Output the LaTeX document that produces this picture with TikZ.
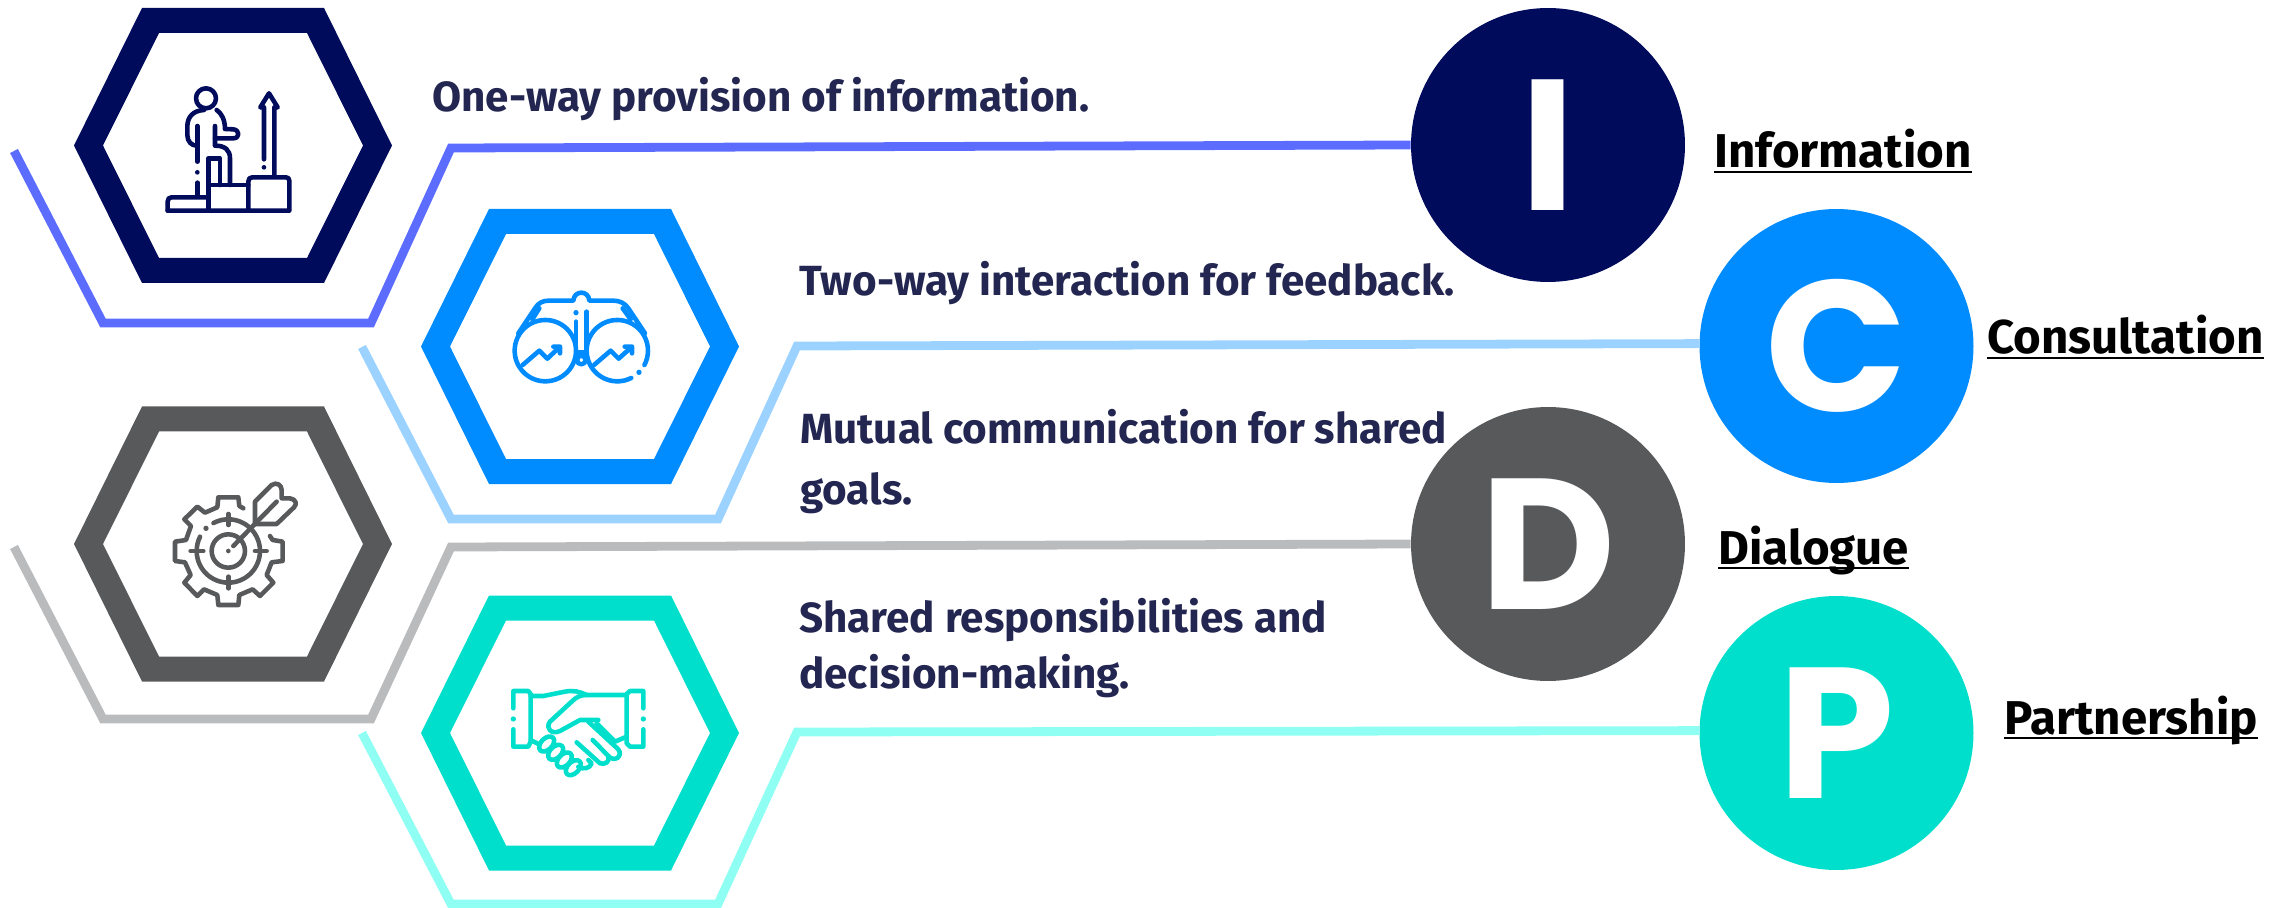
\documentclass[tikz,border=0pt]{standalone}
\usepackage{fontspec}
\usepackage{xcolor}
\usepackage{tikz}
\usetikzlibrary{positioning}
\setmainfont{Fira Sans}
\newfontfamily\letterfont{Poppins}
\definecolor{navyring}{RGB}{0, 11, 92}
\definecolor{bluering}{RGB}{0, 140, 255}
\definecolor{greyring}{RGB}{88, 89, 91}
\definecolor{tealring}{RGB}{0, 223, 204}
\definecolor{navyline}{RGB}{91, 108, 255}
\definecolor{blueline}{RGB}{155, 210, 255}
\definecolor{greyline}{RGB}{186, 187, 189}
\definecolor{tealline}{RGB}{143, 255, 243}
\definecolor{bodytext}{RGB}{35, 38, 80}
\tikzset{
    lettercirc/.style={circle, inner sep=0pt, minimum size=5.48cm, text=white,
        font=\letterfont\fontsize{106}{106}\selectfont\bfseries},
    linkline/.style={line width=5pt, miter limit=3},
    bodylabel/.style={anchor=base west, inner sep=0pt, text=bodytext,
        font=\fontsize{24}{24}\selectfont\bfseries},
    namelabel/.style={anchor=base west, inner sep=0pt, text=black,
        font=\fontsize{27}{27}\selectfont\bfseries},
    nameline/.style={line width=1.3pt},
    iconline/.style={x=0.006667cm, y=-0.006667cm, line width=2.6pt, line cap=round, line join=round}
}
\begin{document}
\begin{tikzpicture}[x=0.02cm, y=-0.02cm]
    \useasboundingbox (0,0) rectangle (2287,908);

    % hexagon rings
    \foreach \cx/\cy/\ringcol in {233/145.5/navyring, 580/346.5/bluering, 233/544/greyring, 580/733/tealring} {
        \fill[\ringcol, even odd rule, shift={(\cx,\cy)}]
            (-159,0) -- (-91,-137.5) -- (91,-137.5) -- (159,0) -- (91,137.5) -- (-91,137.5) -- cycle
            (-130,0) -- (-74,-112.5) -- (74,-112.5) -- (130,0) -- (74,112.5) -- (-74,112.5) -- cycle;
    }

    % letter circles
    \node[lettercirc, fill=navyring] (infocirc) at (1548,145) {I};
    \node[lettercirc, fill=bluering] (conscirc) at (1836.5,346) {C};
    \node[lettercirc, fill=greyring] (dialcirc) at (1548,544) {D};
    \node[lettercirc, fill=tealring] (partcirc) at (1836.5,733) {P};

    % free ends of the lines
    \coordinate (infostart) at (14,151);
    \coordinate (consstart) at (362,347);
    \coordinate (dialstart) at (14,547);
    \coordinate (partstart) at (362,733);

    \draw[linkline, navyline] (infostart) -- (103,323) -- (371,323) -- (451,148) -- (infocirc.west);
    \draw[linkline, blueline] (consstart) -- (451,519) -- (718,519) -- (797,346) -- (conscirc.179);
    \draw[linkline, greyline] (dialstart) -- (103,719) -- (371,719) -- (451,547) -- (dialcirc.west);
    \draw[linkline, tealline] (partstart) -- (451,904) -- (718,904) -- (797,732) -- (partcirc.179);

    % body texts
    \node[bodylabel] (infotext) at (432,112) {One-way provision of information.};
    \node[bodylabel] (constext) at (799,296) {Two-way interaction for feedback.};
    \node[bodylabel] (dialtexta) at (800,443) {Mutual communication for shared};
    \node[bodylabel] (dialtextb) at (800,504) {goals.};
    \node[bodylabel] (parttexta) at (799,632) {Shared responsibilities and};
    \node[bodylabel] (parttextb) at (799,688) {decision-making.};

    % names
    \node[namelabel] (infoname) at (1714,168) {Information};
    \node[namelabel] (consname) at (1987,354) {Consultation};
    \node[namelabel] (dialname) at (1718,564) {Dialogue};
    \node[namelabel] (partname) at (2004,734) {Partnership};
    \foreach \nm in {infoname, consname, dialname, partname}
        \draw[nameline] ([yshift=-2.3pt]\nm.base west) -- ([yshift=-2.3pt]\nm.base east);

    % climbing figure
    \begin{scope}[iconline, draw=navyring]
        \draw (618,295) circle (30);
        \draw (612,330) .. controls (580,332) and (562,350) .. (562,380) -- (562,405) .. controls (562,425) and (575,437) .. (590,437);
        \draw (650,330) .. controls (665,340) and (675,360) .. (675,387) -- (700,388) .. controls (720,390) and (720,415) .. (700,415) -- (645,415);
        \draw (592,378) -- (592,485) (592,548) -- (592,590);
        \fill[navyring] (592,517) circle (7);
        \draw (645,378) -- (645,437) .. controls (675,437) and (690,450) .. (690,475) -- (690,555);
        \draw (625,555) -- (625,475) -- (660,475) -- (660,555);
        \draw (503,632) -- (503,605) .. controls (503,596) and (508,592) .. (515,592) -- (625,592);
        \draw (625,632) -- (625,555) -- (745,555);
        \draw (745,632) -- (745,545) .. controls (745,536) and (750,532) .. (757,532) -- (858,532) .. controls (864,532) and (868,536) .. (868,542) -- (868,632) -- (503,632);
        \draw (792,478) -- (792,322) -- (781,322) -- (807,280) -- (833,322) -- (823,322) -- (823,528);
        \fill[navyring] (792,502) circle (7);
    \end{scope}

    % binoculars
    \begin{scope}[shift={(400,200)}, iconline, draw=bluering]
        \draw (436,452) circle (92);
        \draw (652,452) ++(63:92) arc[start angle=63, end angle=388, radius=92];
        \fill[bluering] (717,517) circle (8);
        \draw (355,400) -- (405,325) .. controls (415,308) and (430,302) .. (445,302) -- (520,302) .. controls (522,270) and (566,270) .. (568,302) -- (640,302) .. controls (660,302) and (675,310) .. (685,325) -- (735,400);
        \draw (397,358) -- (418,325) (692,358) -- (668,325);
        \draw (528,365) -- (528,458) -- (560,458) -- (560,335);
        \fill[bluering] (528,338) circle (8);
        \draw (544,480) circle (13);
        \draw (368,495) -- (418,452) -- (442,476) -- (480,440) -- (480,460) (480,440) -- (460,440);
        \draw (582,495) -- (632,452) -- (656,476) -- (696,440) -- (696,460) (696,440) -- (674,440);
    \end{scope}

    % gear with dart
    \begin{scope}[shift={(0,400)}, iconline, draw=greyring]
        \draw (730,325) -- (718,318) -- (715,292) -- (655,292) -- (652,322) -- (615,338) -- (592,320) -- (553,358) -- (573,378) -- (558,420) -- (525,425) -- (525,483) -- (555,487) -- (572,525) -- (553,548) -- (592,588) -- (612,568) -- (652,585) -- (655,615) -- (715,615) -- (718,585) -- (758,568) -- (780,588) -- (820,548) -- (800,525) -- (815,487) -- (848,483) -- (848,425) -- (818,420) -- (810,408);
        \draw (685,453) ++(-118:95) arc[start angle=-118, end angle=207, radius=95];
        \fill[greyring] (618,385) circle (8);
        \draw (685,342) -- (685,375) (685,530) -- (685,565) (572,453) -- (610,453) (765,453) -- (800,453);
        \draw (685,453) circle (50);
        \fill[greyring] (685,453) circle (7);
        \draw (700,438) -- (830,305);
        \draw (765,372) -- (765,305) -- (815,255) .. controls (830,245) and (845,255) .. (845,270) -- (845,295) -- (870,295) .. controls (888,298) and (892,312) .. (882,322) -- (830,372) -- (765,372);
    \end{scope}

    % handshake
    \begin{scope}[shift={(400,590)}, iconline, draw=tealring]
        \draw (340,355) -- (340,303) -- (385,303) -- (392,312) -- (392,455) -- (385,470) -- (340,470) -- (340,418);
        \fill[tealring] (340,387) circle (8);
        \draw (730,355) -- (730,303) -- (690,303) -- (680,312) -- (680,460) -- (690,470) -- (730,470) -- (730,418);
        \fill[tealring] (730,387) circle (8);
        \draw (392,318) -- (430,318) -- (495,305) .. controls (520,300) and (540,305) .. (560,315) -- (680,315);
        \draw (560,315) .. controls (540,315) and (528,322) .. (515,335) -- (450,395) .. controls (435,415) and (455,435) .. (480,423) -- (540,390) -- (595,390);
        \draw (565,395) -- (655,478) .. controls (670,500) and (645,515) .. (630,503) -- (578,450);
        \draw (590,400) -- (645,455) -- (680,440);
        \draw (530,457) -- (600,520) .. controls (615,525) and (630,515) .. (625,500);
        \draw (565,510) -- (575,520) .. controls (570,535) and (550,540) .. (535,530);
        \draw (392,450) -- (415,462);
        \foreach \kx/\ky in {440/462, 467/487, 493/510, 520/533}
            \draw[rotate around={45:(\kx,\ky)}] (\kx,\ky) ellipse (27 and 17);
    \end{scope}
\end{tikzpicture}
\end{document}
